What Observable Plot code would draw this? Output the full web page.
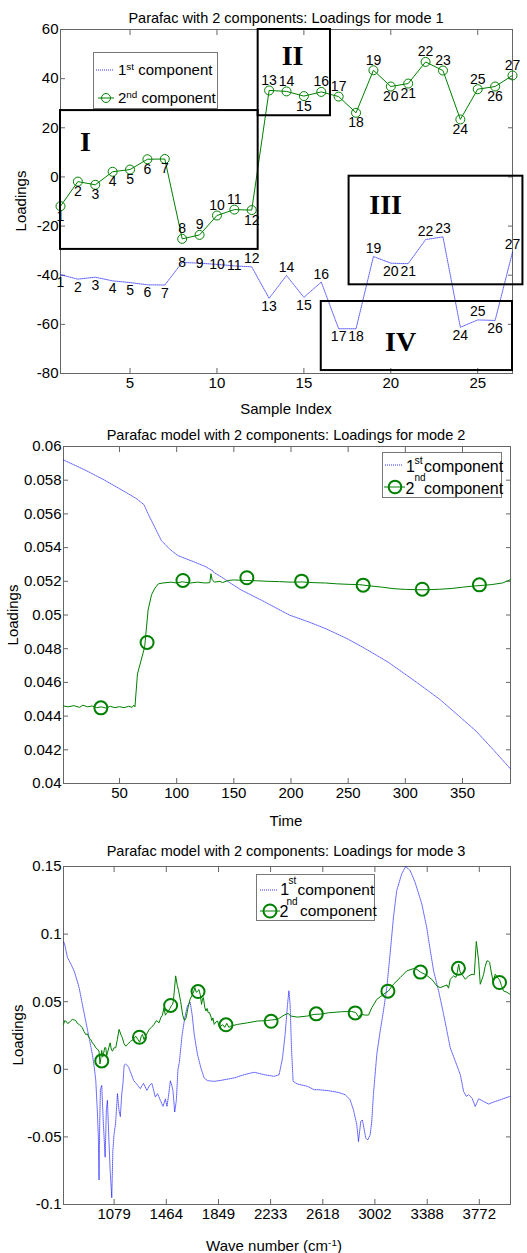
<!DOCTYPE html>
<html>
<head>
<meta charset="utf-8">
<script src="https://cdn.jsdelivr.net/npm/d3@7"></script>
<script src="https://cdn.jsdelivr.net/npm/@observablehq/plot@0.6"></script>
<style>
  html, body { margin: 0; padding: 0; background: #fff; }
  #root { position: relative; width: 527px; height: 1253px; overflow: hidden; font-family: 'Liberation Sans', Arial, Helvetica, sans-serif; color: #000; }
  .panel { position: absolute; left: 0; width: 527px; }
  .abs { position: absolute; white-space: nowrap; line-height: 1; }
  .sup { position: relative; top: -0.5em; font-size: 0.66em; }
  .legend { position: absolute; background: #fff; border: 1px solid #777; box-sizing: border-box; }
  .legend svg { position: absolute; left: 0; top: 0; overflow: visible; }
</style>
</head>
<body>
<div id="root"></div>
<script>
// ---------------- DATA ----------------
// Panel 1: mode 1 loadings per sample
const sampleIndex = [1,2,3,4,5,6,7,8,9,10,11,12,13,14,15,16,17,18,19,20,21,22,23,24,25,26,27];
const comp1Mode1 = [-39.8,-41.6,-40.8,-42.3,-43.0,-43.9,-44.0,-34.8,-35.1,-35.6,-36.2,-36.6,-49.4,-40.1,-49.0,-42.8,-61.8,-61.8,-32.4,-35.1,-35.3,-25.5,-24.4,-61.2,-58.2,-58.4,-30.6];
const comp2Mode1 = [-11.9,-1.9,-3.2,2.1,3.0,7.2,7.3,-25.2,-23.6,-15.7,-13.3,-13.5,35.2,34.8,32.9,34.6,32.7,26.1,43.4,36.8,38.0,46.8,43.3,23.4,35.7,36.8,41.3];
const comp1LabelSide = ["below","below","below","below","below","below","below","on","on","on","on","above","below","above","below","above","below","below","above","below","below","above","above","below","above","below","above"];
const comp2LabelSide = ["below","below","below","below","below","below","below","above","above","above","above","below","above","above","below","above","above","below","above","below","below","above","above","below","above","below","above"];
const regionNames = ["I","II","III","IV"];
const regionX1 = [1, 12.37, 17.6, 16.0];
const regionX2 = [12.37, 16.53, 27.6, 27.0];
const regionY1 = [-29.5, 24.9, -43.9, -78.8];
const regionY2 = [27.0, 60.0, 0.3, -50.7];
const regionLabelX = [2.44, 14.35, 19.7, 20.56];
const regionLabelY = [14.1, 49.4, -11.6, -67.3];
const xTicks1 = [5, 10, 15, 20, 25];
const yTicks1 = [-80, -60, -40, -20, 0, 20, 40, 60];

// Panel 2: mode 2 loadings vs time  [time, loading]
const comp1Mode2 = [[1,0.0592],[20,0.0586],[37,0.0580],[55,0.0573],[65,0.0569],[71.5,0.05654],[75,0.0560],[79.4,0.0554],[86.6,0.05442],[94,0.0539],[101,0.05353],[116,0.05313],[125,0.05288],[130,0.05268],[131,0.05266],[132,0.05255],[140,0.05222],[148,0.05185],[156,0.0515],[175,0.05085],[198.5,0.0500],[215,0.0496],[230,0.0492],[249,0.0486],[265,0.0480],[285,0.0472],[310,0.0460],[330,0.0450],[347,0.0440],[362,0.0431],[377,0.0420],[392,0.04087]];
const comp2Mode2 = [[1,0.04460],[5,0.04455],[10,0.04462],[15,0.04452],[18,0.04465],[22,0.04455],[26,0.04460],[30,0.04450],[34,0.04455],[38,0.04448],[42,0.04458],[46,0.04450],[50,0.04456],[54,0.04450],[58,0.04458],[61,0.04452],[62.5,0.04465],[63.5,0.04455],[65.7,0.0465],[72,0.0481],[75,0.0503],[78,0.0512],[81,0.0516],[84,0.05185],[88,0.0519],[95,0.05195],[100,0.0519],[105,0.05197],[112,0.0519],[118,0.05195],[125,0.0519],[129,0.05192],[130,0.05245],[131,0.0521],[133,0.05195],[138,0.052],[140,0.05192],[145,0.05205],[150,0.05208],[160,0.05205],[170,0.05203],[180,0.052],[190,0.05198],[200,0.05195],[210,0.05196],[220,0.05192],[230,0.0519],[240,0.05185],[250,0.05182],[260,0.0518],[270,0.05172],[280,0.05165],[290,0.05156],[300,0.05152],[310,0.05150],[320,0.0515],[330,0.05153],[340,0.05157],[350,0.05165],[360,0.05172],[375,0.0518],[385,0.0519],[392,0.0521]];
const comp2Mode2Markers = [[33.7,0.04449],[74.1,0.04837],[105.5,0.05205],[161.4,0.05221],[209.3,0.05201],[263.1,0.05177],[314.8,0.05153],[364.8,0.05179]];
const xTicks2 = [50, 100, 150, 200, 250, 300, 350];
const yTicks2 = [0.04, 0.042, 0.044, 0.046, 0.048, 0.05, 0.052, 0.054, 0.056, 0.058, 0.06];

// Panel 3: mode 3 loadings vs wave number  [wavenumber, loading]
const comp1Mode3 = [[706,0.094],[711,0.0938],[720,0.090],[735,0.0827],[760,0.078],[784,0.0728],[805,0.066],[821,0.0604],[845,0.048],[870,0.0356],[895,0.0233],[919,0.0109],[932,0.002],[944,-0.008],[955,-0.03],[963,-0.05],[968,-0.0818],[973,-0.04],[978,-0.015],[988,-0.0119],[1000,-0.04],[1013,-0.065],[1022,-0.03],[1030,-0.023],[1040,-0.05],[1050,-0.075],[1062,-0.095],[1070,-0.06],[1079,-0.048],[1090,-0.04],[1104,-0.018],[1115,-0.03],[1125,-0.035],[1136,-0.018],[1145,-0.01],[1153,0.003],[1165,0.004],[1186,0.0017],[1223,-0.0082],[1247,-0.0111],[1272,-0.0143],[1296,-0.0104],[1321,-0.0156],[1340,-0.012],[1358,-0.0104],[1383,-0.0205],[1400,-0.018],[1420,-0.023],[1440,-0.0274],[1457,-0.022],[1469,-0.0274],[1480,-0.02],[1494,-0.0086],[1505,-0.012],[1513,-0.0156],[1526,-0.0316],[1538,-0.023],[1550,0.0],[1560,0.005],[1580,0.025],[1600,0.038],[1620,0.047],[1640,0.0497],[1655,0.040],[1670,0.0257],[1694,0.0109],[1719,0.001],[1743,-0.0064],[1768,-0.0084],[1817,-0.0089],[1866,-0.0082],[1964,-0.0064],[2038,-0.004],[2112,-0.0022],[2185,-0.004],[2259,-0.0052],[2296,-0.004],[2321,0.0084],[2340,0.0257],[2358,0.048],[2368,0.058],[2377,0.048],[2387,0.0158],[2399,-0.0089],[2431,-0.0109],[2505,-0.0126],[2554,-0.0151],[2586,-0.0151],[2660,-0.0158],[2733,-0.0171],[2783,-0.0188],[2819,-0.0225],[2844,-0.03],[2869,-0.0411],[2881,-0.0535],[2898,-0.0386],[2910,-0.0374],[2935,-0.051],[2950,-0.0522],[2967,-0.0485],[2979,-0.0386],[2991,-0.0188],[3016,0.0109],[3041,0.0282],[3065,0.0431],[3090,0.0604],[3114,0.0851],[3139,0.1124],[3163,0.1322],[3200,0.1446],[3229,0.15],[3262,0.147],[3298,0.1384],[3348,0.1223],[3384,0.105],[3411,0.0876],[3435,0.0728],[3472,0.0579],[3509,0.0406],[3558,0.0158],[3595,0.006],[3632,-0.004],[3656,-0.0163],[3676,-0.02],[3693,-0.0188],[3718,-0.0213],[3742,-0.0275],[3767,-0.0218],[3804,-0.0238],[3841,-0.0257],[3878,-0.0242],[3927,-0.0225],[3976,-0.0208],[4000,-0.02]];
const comp2Mode3 = [[706,0.0332],[715,0.0360],[723,0.0357],[735,0.0340],[747,0.0344],[760,0.0360],[772,0.0369],[784,0.0365],[796,0.0361],[808,0.0340],[821,0.0332],[833,0.0320],[845,0.0307],[857,0.0280],[870,0.0258],[882,0.0262],[894,0.0233],[907,0.0220],[919,0.0196],[932,0.0180],[944,0.0159],[956,0.0150],[968,0.0134],[975,0.0040],[981,0.0080],[988,0.0140],[995,0.0090],[1000,0.0109],[1010,0.0160],[1018,0.0159],[1024,0.0100],[1030,0.0121],[1040,0.0160],[1050,0.0196],[1058,0.0150],[1067,0.0134],[1080,0.0160],[1091,0.0159],[1103,0.0220],[1116,0.0295],[1128,0.0260],[1140,0.0233],[1152,0.0190],[1165,0.0171],[1183,0.0190],[1202,0.0208],[1220,0.0220],[1239,0.0245],[1255,0.0220],[1268,0.0200],[1278,0.0240],[1288,0.0258],[1300,0.0220],[1312,0.0245],[1325,0.0270],[1337,0.0295],[1355,0.0310],[1374,0.0332],[1390,0.0360],[1411,0.0344],[1423,0.0381],[1435,0.0400],[1447,0.0455],[1457,0.0400],[1467,0.0418],[1480,0.0430],[1490,0.0450],[1501,0.0470],[1510,0.0480],[1516,0.0505],[1525,0.0600],[1533,0.0691],[1545,0.0620],[1555,0.0580],[1570,0.0500],[1585,0.0400],[1598,0.0360],[1610,0.0380],[1625,0.0460],[1640,0.0520],[1657,0.0554],[1668,0.0580],[1675,0.0604],[1685,0.0570],[1694,0.0574],[1704,0.0590],[1714,0.0554],[1724,0.0480],[1731,0.0520],[1738,0.0530],[1747,0.0460],[1756,0.0431],[1765,0.0450],[1773,0.0418],[1782,0.0420],[1792,0.0394],[1800,0.0360],[1808,0.0380],[1817,0.0332],[1830,0.0350],[1842,0.0357],[1855,0.0310],[1866,0.0320],[1880,0.0330],[1895,0.0310],[1910,0.0340],[1925,0.0310],[1940,0.0320],[1989,0.0332],[2063,0.0344],[2136,0.0357],[2200,0.0360],[2240,0.0365],[2284,0.0369],[2333,0.0401],[2362,0.0413],[2382,0.0394],[2431,0.0386],[2505,0.0394],[2554,0.0406],[2600,0.0408],[2660,0.0418],[2758,0.0426],[2830,0.0428],[2861,0.0420],[2880,0.0390],[2905,0.0406],[2930,0.0401],[2955,0.0401],[2979,0.0455],[3016,0.0517],[3065,0.0554],[3102,0.0579],[3139,0.0629],[3188,0.0678],[3237,0.0728],[3298,0.0748],[3343,0.0716],[3372,0.0703],[3421,0.0666],[3460,0.0616],[3484,0.0604],[3534,0.0624],[3545,0.0600],[3558,0.0666],[3583,0.0691],[3600,0.0680],[3610,0.0720],[3620,0.0777],[3630,0.0720],[3644,0.0703],[3669,0.0666],[3693,0.0691],[3718,0.0703],[3735,0.0700],[3750,0.0946],[3767,0.0802],[3779,0.0629],[3790,0.0660],[3804,0.0703],[3815,0.0760],[3828,0.0802],[3840,0.0800],[3848,0.0790],[3860,0.0720],[3873,0.0653],[3890,0.0703],[3905,0.0680],[3922,0.0660],[3935,0.0620],[3951,0.0579],[3975,0.0570],[4000,0.0554]];
const comp2Mode3Markers = [[988,0.0062],[1266,0.0237],[1496,0.0472],[1698,0.0575],[1904,0.0329],[2237,0.0355],[2570,0.041],[2857,0.0417],[3098,0.0578],[3338,0.0719],[3618,0.0747],[3921,0.0642]];
const xTicks3 = [1079, 1464, 1849, 2233, 2618, 3002, 3388, 3772];
const yTicks3 = [-0.1, -0.05, 0, 0.05, 0.1, 0.15];

// ---------------- STYLE ----------------
const FONT = "'Liberation Sans', Arial, Helvetica, sans-serif";
const BLUE = "#0000ff";
const GREEN = "#008000";
const AXIS = "#666";
const root = document.getElementById("root");

function frameAxes(xt, yt, fmtX, fmtY) {
  return [
    Plot.frame({stroke: AXIS}),
    Plot.axisX(xt, {anchor: "bottom", tickSize: -5, tickPadding: 9, stroke: AXIS, tickFormat: fmtX, label: null}),
    Plot.axisX(xt, {anchor: "top", tickSize: -5, stroke: AXIS, tickFormat: () => "", label: null}),
    Plot.axisY(yt, {anchor: "left", tickSize: -5, tickPadding: 7, stroke: AXIS, tickFormat: fmtY, label: null}),
    Plot.axisY(yt, {anchor: "right", tickSize: -5, stroke: AXIS, tickFormat: () => "", label: null})
  ];
}
const plotStyle = {fontFamily: FONT, fontSize: "15px", background: "transparent", overflow: "visible", color: "#000"};
const blueLine = {stroke: BLUE, strokeWidth: 0.9, strokeDasharray: "1,1", strokeOpacity: 0.7};

function addPanel(svg, top) {
  const d = document.createElement("div");
  d.className = "panel";
  d.style.top = top + "px";
  d.appendChild(svg);
  root.appendChild(d);
}
function place(html, cx, cy, size, rotate) {
  const el = document.createElement("div");
  el.className = "abs";
  el.innerHTML = html;
  el.style.fontSize = size + "px";
  el.style.left = cx + "px";
  el.style.top = cy + "px";
  el.style.transform = "translate(-50%, -50%)" + (rotate ? ` rotate(${rotate}deg)` : "");
  root.appendChild(el);
}
function legendBox(left, top, w, h, items) {
  const box = document.createElement("div");
  box.className = "legend";
  Object.assign(box.style, {left: left + "px", top: top + "px", width: w + "px", height: h + "px"});
  const svg = d3.create("svg").attr("width", w).attr("height", h);
  for (const it of items) {
    if (it.kind === "line") {
      svg.append("line").attr("x1", it.x1).attr("x2", it.x2).attr("y1", it.y).attr("y2", it.y)
        .attr("stroke", it.color).attr("stroke-width", it.width || 1)
        .attr("stroke-dasharray", it.dash || null).attr("stroke-opacity", it.opacity || 1);
    } else if (it.kind === "circle") {
      svg.append("circle").attr("cx", it.cx).attr("cy", it.cy).attr("r", it.r)
        .attr("fill", "none").attr("stroke", it.color).attr("stroke-width", it.width || 1);
    }
  }
  box.appendChild(svg.node());
  for (const it of items) {
    if (it.kind === "text") {
      const s = document.createElement("div");
      s.className = "abs";
      s.innerHTML = it.html;
      s.style.fontSize = it.size + "px";
      s.style.left = it.x + "px";
      s.style.top = (it.cy - it.size * 0.55) + "px";
      box.appendChild(s);
    }
  }
  root.appendChild(box);
}

// ---------------- PANEL 1 ----------------
const rows1 = sampleIndex.map((s, i) => ({s, v1: comp1Mode1[i], v2: comp2Mode1[i], side1: comp1LabelSide[i], side2: comp2LabelSide[i]}));
const labelMarks = [];
for (const [side, dy] of [["above", -8], ["below", 8], ["on", 0]]) {
  labelMarks.push(Plot.text(rows1, {x: "s", y: "v1", text: d => String(d.s), dy, fontSize: 14, filter: d => d.side1 === side}));
}
for (const [side, dy] of [["above", -10], ["below", 10]]) {
  labelMarks.push(Plot.text(rows1, {x: "s", y: "v2", text: d => String(d.s), dy, fontSize: 14, filter: d => d.side2 === side}));
}
const p1 = Plot.plot({
  width: 527, height: 420,
  marginLeft: 60, marginRight: 15, marginTop: 29, marginBottom: 47,
  style: plotStyle,
  x: {domain: [1, 27]},
  y: {domain: [-80, 60]},
  marks: [
    ...frameAxes(xTicks1, yTicks1, d => String(d), d => String(d)),
    Plot.line(rows1, {x: "s", y: "v1", ...blueLine}),
    Plot.line(rows1, {x: "s", y: "v2", stroke: GREEN, strokeWidth: 1}),
    Plot.dot(rows1, {x: "s", y: "v2", r: 4.5, stroke: GREEN, strokeWidth: 1, fill: "none"}),
    ...labelMarks,
    Plot.rect(regionNames, {x1: regionX1, x2: regionX2, y1: regionY1, y2: regionY2, stroke: "#000", strokeWidth: 2, fill: "none"}),
    Plot.text(regionNames, {x: regionLabelX, y: regionLabelY, text: d => d, fontFamily: "'Liberation Serif', 'Times New Roman', serif", fontWeight: "bold", fontSize: 28})
  ]
});
addPanel(p1, 0);
place("Parafac with 2 components: Loadings for mode 1", 286, 18, 14.5);
place("Loadings", 20, 201, 15, -90);
place("Sample Index", 286, 408, 15);
legendBox(93, 52, 125, 57, [
  {kind: "line", x1: 2, x2: 20, y: 17, color: BLUE, dash: "1,1", opacity: 0.8},
  {kind: "text", html: "1<span class='sup'>st</span> component", x: 24, cy: 17, size: 15},
  {kind: "line", x1: 4, x2: 20, y: 45, color: GREEN},
  {kind: "circle", cx: 12, cy: 45, r: 4.5, color: GREEN},
  {kind: "text", html: "2<span class='sup'>nd</span> component", x: 24, cy: 45, size: 15}
]);

// ---------------- PANEL 2 ----------------
const p2 = Plot.plot({
  width: 527, height: 410,
  marginLeft: 63, marginRight: 17, marginTop: 26, marginBottom: 47,
  style: plotStyle,
  x: {domain: [1, 392]},
  y: {domain: [0.04, 0.06]},
  marks: [
    ...frameAxes(xTicks2, yTicks2, d => String(d), d => String(+d.toFixed(3))),
    Plot.line(comp1Mode2, {x: d => d[0], y: d => d[1], ...blueLine}),
    Plot.line(comp2Mode2, {x: d => d[0], y: d => d[1], stroke: GREEN, strokeWidth: 1}),
    Plot.dot(comp2Mode2Markers, {x: d => d[0], y: d => d[1], r: 6.5, stroke: GREEN, strokeWidth: 2, fill: "none"})
  ]
});
addPanel(p2, 420);
place("Parafac model with 2 components: Loadings for mode 2", 286, 435, 14.5);
place("Loadings", 12, 615, 15, -90);
place("Time", 286, 820, 15);
legendBox(382, 452, 120, 46, [
  {kind: "line", x1: 2, x2: 20, y: 12, color: BLUE, dash: "1,1", opacity: 0.8},
  {kind: "text", html: "1", x: 23, cy: 15, size: 16},
  {kind: "text", html: "st", x: 31.5, cy: 8, size: 10.5},
  {kind: "text", html: "component", x: 41, cy: 15, size: 16},
  {kind: "line", x1: 1, x2: 22, y: 34, color: GREEN},
  {kind: "circle", cx: 12, cy: 34, r: 6.3, color: GREEN, width: 2},
  {kind: "text", html: "2", x: 22.5, cy: 37, size: 16},
  {kind: "text", html: "nd", x: 31.5, cy: 25, size: 10},
  {kind: "text", html: "component", x: 41, cy: 37, size: 16}
]);

// ---------------- PANEL 3 ----------------
const p3 = Plot.plot({
  width: 527, height: 423,
  marginLeft: 63, marginRight: 17, marginTop: 36, marginBottom: 49,
  style: plotStyle,
  x: {domain: [706, 4002]},
  y: {domain: [-0.1, 0.15]},
  marks: [
    ...frameAxes(xTicks3, yTicks3, d => String(d), d => String(+d.toFixed(2))),
    Plot.line(comp1Mode3, {x: d => d[0], y: d => d[1], ...blueLine}),
    Plot.line(comp2Mode3, {x: d => d[0], y: d => d[1], stroke: GREEN, strokeWidth: 1}),
    Plot.dot(comp2Mode3Markers, {x: d => d[0], y: d => d[1], r: 6.5, stroke: GREEN, strokeWidth: 2, fill: "none"})
  ]
});
addPanel(p3, 830);
place("Parafac model with 2 components: Loadings for mode 3", 286, 851, 14.5);
place("Loadings", 17, 1035, 15, -90);
place("Wave number (cm<span class='sup'>-1</span>)", 274, 1245, 15);
legendBox(256, 874, 119, 47, [
  {kind: "line", x1: 3, x2: 21, y: 15, color: BLUE, dash: "1,1", opacity: 0.8},
  {kind: "text", html: "1", x: 23.3, cy: 15.5, size: 16},
  {kind: "text", html: "st", x: 31.5, cy: 6.5, size: 10},
  {kind: "text", html: "component", x: 40.5, cy: 15.5, size: 15.5},
  {kind: "circle", cx: 13, cy: 36, r: 6.5, color: GREEN, width: 2},
  {kind: "line", x1: 3, x2: 23, y: 36, color: GREEN},
  {kind: "text", html: "2", x: 22.5, cy: 37.5, size: 16},
  {kind: "text", html: "nd", x: 29.5, cy: 27, size: 10},
  {kind: "text", html: "component", x: 43, cy: 37, size: 15.5}
]);
</script>
</body>
</html>
